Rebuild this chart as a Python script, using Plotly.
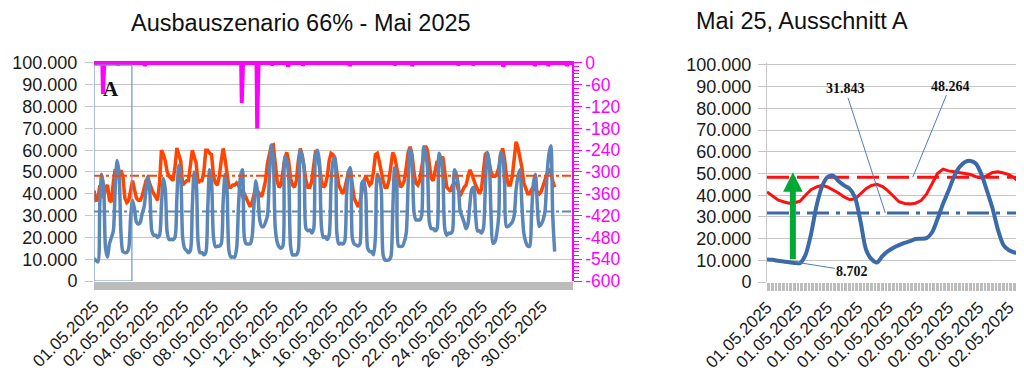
import numpy as np
import plotly.graph_objects as go

# ---------------- data (values in thousand MW unless noted) ----------------
# Left chart: May 2025, 3-hourly samples, 8 per day (00,03,...,21h), 01.05 - 30.05
BLUE_3H = [
    10.4, 9.4, 8.7, 35, 49, 43, 15, 11,
    17, 19.8, 22.8, 42, 55.3, 49.5, 22, 13.5,
    13, 13, 15, 29, 37, 33, 27, 26,
    27, 31, 34, 42, 48, 40, 23, 21,
    21, 20, 21, 35, 47, 42, 22, 19,
    19, 19, 20, 38, 53, 48, 20, 15,
    14, 13, 14, 34, 50, 46, 18, 13,
    13, 12, 13, 33, 51, 45, 20, 15.7,
    16, 16, 17, 36, 49, 42, 14, 11,
    11, 11, 15, 35, 48, 51, 20, 17,
    17, 17, 20, 35, 46, 40, 28, 25,
    25, 27, 30, 48, 62.4, 56, 25, 18,
    15.7, 15, 16, 57, 55, 48, 16, 12,
    12, 12, 14, 60, 57, 52, 24, 23,
    23.4, 22, 24, 58, 60, 54, 25, 20,
    20.3, 19, 21, 45, 55, 57, 22, 17,
    17.3, 17, 18, 38, 50, 52, 20, 17,
    16.5, 16, 17, 45, 46, 40, 15, 13.5,
    13.5, 12, 20, 49, 47, 42, 12, 9.6,
    9.5, 9.6, 11, 32, 52, 47, 16, 15.8,
    16, 18, 22, 45, 60.8, 56, 32, 28,
    28, 28, 30, 61.6, 59, 52, 27, 24,
    24, 23, 24, 58.6, 56, 48, 24, 21,
    22, 21.8, 23, 51, 49, 44, 32, 29.5,
    27, 24, 26, 35, 42, 43, 30, 23,
    23, 22, 24, 42, 59, 55, 30, 17.3,
    18, 22, 30, 59, 57, 45, 25, 25,
    26, 27, 30, 42, 48, 51, 35, 22,
    18, 16, 16, 30, 45, 49, 35, 25,
    26, 28, 32, 48, 58, 62, 30, 13.5,
]
RED_3H = [
    41.5, 37, 37.2, 43.8, 42.5, 38, 43, 44,
    37, 36.3, 45, 51.2, 50, 48, 50.8, 48,
    38, 36, 37, 42, 46, 42, 38, 37,
    37, 39, 42, 46, 47, 44, 42, 40,
    38, 37, 45, 60, 58, 55, 50, 48,
    47, 46, 52, 61, 58, 55, 44, 45,
    46, 46, 55, 60, 57, 54, 45, 46,
    46, 50, 60, 60, 58.6, 58, 48, 45,
    44, 48, 55, 60.8, 56, 50, 43, 43,
    44, 44, 45, 44, 42, 39, 40, 38,
    36, 34, 36, 40, 43, 41, 40, 38.7,
    42, 46, 54, 58, 62, 62.4, 52, 46,
    43, 44, 50, 56, 59, 55, 47, 44,
    43, 46, 55, 60.8, 58, 52, 46, 43,
    43, 46, 52, 60, 58, 52, 46, 43,
    44, 48, 55, 58.6, 58, 56, 50, 44,
    42, 40, 42, 46, 50, 51, 44, 38,
    36, 34, 36, 42, 46, 48, 46, 44,
    45, 50, 58, 58.6, 55, 50, 46, 43,
    43, 46, 54, 59, 57, 52, 46, 43,
    44, 46, 52, 59, 61.6, 58, 50, 45,
    44, 46, 52, 58, 62, 60, 52, 47,
    46, 50, 55, 54, 56, 57, 50, 43,
    42, 41, 44, 45, 45, 42, 39, 41,
    43, 44, 48, 51, 49, 46, 44, 42,
    40, 42, 50, 58, 59, 55, 50, 48,
    48, 49, 52, 58, 60.8, 56, 48, 44,
    44, 48, 56, 63.9, 61, 57, 52, 45,
    42, 40, 40, 42, 43, 42, 41, 40,
    41, 44, 47, 49, 51, 50, 46, 43,
]
SAMPLE_STEP_H = 3
MONTH_HOURS = 744

# Magenta series (right axis): 0 except for these dips (hour of month, value)
DIP_HOURS = [14, 37, 79, 230, 254, 277, 302, 325, 398, 468, 495, 567, 590, 637, 686, 707, 736]
DIP_VALUES = [-85, -6, -8, -110, -180, -6, -10, -7, -8, -6, -8, -6, -6, -10, -8, -8, -8]

LEFT_TICK_LABELS = ["01.05.2025", "02.05.2025", "04.05.2025", "06.05.2025", "08.05.2025",
                    "10.05.2025", "12.05.2025", "14.05.2025", "16.05.2025", "18.05.2025",
                    "20.05.2025", "22.05.2025", "24.05.2025", "26.05.2025", "28.05.2025",
                    "30.05.2025"]
LEFT_TICK_STEP_H = 46.5

MEAN_RED = 48264
MEAN_BLUE = 31843
MIN_BLUE = 8702

# Right chart: section A, hourly values 0..46 h
ZOOM_BLUE = [10.4, 10.2, 9.8, 9.4, 9.1, 8.8, 8.7, 12.5, 22, 35, 44, 48.3, 49, 46.5, 44.5, 43,
             39, 28, 15, 10.5, 9, 12, 14.2, 15.8, 17, 18, 18.8, 19.8, 19.9, 20.2, 22.8, 29,
             36, 42, 48.5, 53, 55.3, 55.8, 54.5, 49.5, 42, 34, 24, 17, 14.6, 13.6, 13.3]
ZOOM_RED = [41.5, 39.5, 37.8, 37, 36.3, 36.5, 37.2, 40, 42.5, 43.8, 44.5, 43.8, 42.5, 41, 39.2,
            38, 38.2, 40.5, 43, 44.5, 45, 44, 42, 39.5, 37, 36.2, 36, 36.3, 37.5, 40.5, 45, 50,
            52, 51.2, 50.8, 50.5, 50, 49.5, 48.5, 48, 49, 50.5, 50.8, 50.2, 49.5, 48, 45.5]
ZOOM_HOURS = 46
MIN_BLUE_HOUR = 5.1
RIGHT_TICK_LABELS = ["01.05.2025"] * 5 + ["02.05.2025"] * 4
RIGHT_TICK_STEP_H = 5.5

Y_TICKS = list(range(0, 100001, 10000))
Y2_TICKS = list(range(-600, 1, 60))

# ---------------- styling / page geometry ----------------
# the page body keeps the browser's default 8px margin
PAGE_OFF = 8
W, H = 1016, 382


def sx(px):
    return (px - PAGE_OFF) / W


def sy(px):
    return 1 - (px - PAGE_OFF) / H


FONT = "Liberation Sans, Arial, sans-serif"
SERIF = "Liberation Serif, Times New Roman, serif"
BLUE_L = "#5b86b8"
RED_L = "#ff4500"
BLUE_R = "#3b6aa9"
RED_R = "#ff1010"
MAGENTA = "#ff00ff"
GRID = "#c6c6c6"
BAND = "#bcbcbc"
TXT = "#1a1a1a"


def de(v):
    return f"{v:,}".replace(",", ".")


blue_l = np.array(BLUE_3H) * 1000
red_l = np.array(RED_3H) * 1000
hours_l = np.arange(len(BLUE_3H)) * SAMPLE_STEP_H

mag_hours = np.arange(MONTH_HOURS + 1)
mag_vals = np.zeros(len(mag_hours))
for h, v in zip(DIP_HOURS, DIP_VALUES):
    mag_vals[h] = v

blue_r = np.array(ZOOM_BLUE) * 1000
red_r = np.array(ZOOM_RED) * 1000
hours_r = np.arange(len(ZOOM_BLUE))

fig = go.Figure()

# left chart
fig.add_trace(go.Scatter(x=hours_l, y=red_l, mode="lines", line=dict(color=RED_L, width=3.5),
                         xaxis="x", yaxis="y"))
fig.add_trace(go.Scatter(x=hours_l, y=blue_l, mode="lines",
                         line=dict(color=BLUE_L, width=3.5, shape="spline", smoothing=0.8),
                         xaxis="x", yaxis="y"))
fig.add_trace(go.Scatter(x=[0, MONTH_HOURS], y=[MEAN_RED, MEAN_RED], mode="lines",
                         line=dict(color=RED_L, width=2, dash="dashdot"), xaxis="x", yaxis="y"))
fig.add_trace(go.Scatter(x=[0, MONTH_HOURS], y=[MEAN_BLUE, MEAN_BLUE], mode="lines",
                         line=dict(color=BLUE_L, width=2, dash="dashdot"), xaxis="x", yaxis="y"))
fig.add_trace(go.Scatter(x=mag_hours, y=mag_vals, mode="lines", line=dict(color=MAGENTA, width=4),
                         xaxis="x", yaxis="y2"))

# right chart
fig.add_trace(go.Scatter(x=[0, ZOOM_HOURS], y=[MEAN_RED, MEAN_RED], mode="lines",
                         line=dict(color=RED_R, width=3, dash="22px,8px"), xaxis="x2", yaxis="y3"))
fig.add_trace(go.Scatter(x=[0, ZOOM_HOURS], y=[MEAN_BLUE, MEAN_BLUE], mode="lines",
                         line=dict(color=BLUE_R, width=3, dash="22px,7px,4px,7px"),
                         xaxis="x2", yaxis="y3"))
fig.add_trace(go.Scatter(x=hours_r, y=red_r, mode="lines", line=dict(color=RED_R, width=3),
                         xaxis="x2", yaxis="y3"))
fig.add_trace(go.Scatter(x=hours_r, y=blue_r, mode="lines",
                         line=dict(color=BLUE_R, width=4, shape="spline", smoothing=0.8),
                         xaxis="x2", yaxis="y3"))

tick_font = dict(family=FONT, size=17, color=TXT)
ytick_font = dict(family=FONT, size=18, color=TXT)

fig.update_layout(
    width=W, height=H, autosize=False,
    margin=dict(l=0, r=0, t=0, b=0, autoexpand=False),
    paper_bgcolor="white", plot_bgcolor="white",
    showlegend=False,
    font=dict(family=FONT, color=TXT),
    xaxis=dict(domain=[sx(94), sx(572)], range=[0, MONTH_HOURS], anchor="y",
               automargin=False, tickmode="array",
               tickvals=[i * LEFT_TICK_STEP_H for i in range(len(LEFT_TICK_LABELS))],
               ticktext=LEFT_TICK_LABELS, tickangle=-45, tickfont=tick_font,
               ticks="outside", ticklen=8, tickcolor=BAND,
               minor=dict(dtick=1, ticks="outside", ticklen=8, tickcolor=BAND, showgrid=False),
               showgrid=False, zeroline=False, showline=False),
    yaxis=dict(domain=[sy(281), sy(60.8)], range=[0, 101000], anchor="x",
               automargin=False, tickmode="array", tickvals=Y_TICKS,
               ticktext=[de(v) for v in Y_TICKS], ticklabelstandoff=4,
               tickfont=ytick_font, ticks="outside", ticklen=8, tickcolor=GRID,
               gridcolor=GRID, gridwidth=1, zeroline=False, showline=False),
    yaxis2=dict(overlaying="y", side="right", anchor="x", range=[-600, 6], automargin=False,
                tickmode="array", tickvals=Y2_TICKS, ticktext=[str(v) for v in Y2_TICKS],
                tickfont=dict(family=FONT, size=17.5, color=MAGENTA),
                ticks="outside", ticklen=8, tickcolor=MAGENTA, tickwidth=1,
                minor=dict(dtick=10, tick0=0, ticks="outside", ticklen=5, tickcolor=MAGENTA),
                showline=True, linecolor=MAGENTA, linewidth=1.5,
                showgrid=False, zeroline=False),
    xaxis2=dict(domain=[sx(767), sx(1020)], range=[0, ZOOM_HOURS], anchor="y3",
                automargin=False, tickmode="array",
                tickvals=[i * RIGHT_TICK_STEP_H for i in range(len(RIGHT_TICK_LABELS))],
                ticktext=RIGHT_TICK_LABELS, tickangle=-45, tickfont=tick_font,
                ticks="outside", ticklen=8, tickcolor=BAND,
                minor=dict(dtick=0.25, ticks="outside", ticklen=8, tickcolor=BAND, showgrid=False),
                showgrid=False, zeroline=False, showline=False),
    yaxis3=dict(domain=[sy(282), sy(62.8)], range=[0, 101000], anchor="x2",
                automargin=False, tickmode="array", tickvals=Y_TICKS,
                ticktext=[de(v) for v in Y_TICKS], ticklabelstandoff=3,
                tickfont=ytick_font, ticks="outside", ticklen=8, tickcolor=GRID,
                gridcolor=GRID, gridwidth=1, zeroline=False,
                showline=True, linecolor=GRID, linewidth=1),
)

# section A frame on the left chart
fig.add_shape(type="rect", xref="x", yref="y", x0=0, x1=59, y0=0, y1=99000,
              line=dict(color="#6f93c0", width=1.2), fillcolor="rgba(0,0,0,0)")

annotations = [
    dict(text="Ausbauszenario 66% - Mai 2025", xref="paper", yref="paper", x=sx(301),
         y=sy(23), xanchor="center", yanchor="middle", showarrow=False,
         font=dict(family=FONT, size=23.5, color="#111111")),
    dict(text="Mai 25, Ausschnitt A", xref="paper", yref="paper", x=sx(802),
         y=sy(21), xanchor="center", yanchor="middle", showarrow=False,
         font=dict(family=FONT, size=23.5, color="#111111")),
    dict(text="<b>A</b>", xref="x", yref="y", x=26, y=88000, showarrow=False,
         font=dict(family=SERIF, size=21, color="#111111")),
    # green arrow
    dict(text="", xref="x2", yref="y3", x=4.7, y=50600, axref="x2", ayref="y3",
         ax=4.7, ay=9800, showarrow=True, arrowhead=2, arrowsize=0.65, arrowwidth=6,
         arrowcolor="#00a933", standoff=0, startstandoff=0),
    # leader-line labels
    dict(text=f"<b>{de(MEAN_BLUE)}</b>", xref="x2", yref="y3", x=21.5, y=MEAN_BLUE,
         axref="x2", ayref="y3", ax=14.2, ay=89000, showarrow=True, arrowhead=0,
         arrowwidth=1, arrowcolor="#4f7db5", font=dict(family=SERIF, size=14, color="#111111")),
    dict(text=f"<b>{de(MEAN_RED)}</b>", xref="x2", yref="y3", x=26.5, y=MEAN_RED,
         axref="x2", ayref="y3", ax=33.3, ay=90300, showarrow=True, arrowhead=0,
         arrowwidth=1, arrowcolor="#4f7db5", font=dict(family=SERIF, size=14, color="#111111")),
    dict(text=f"<b>{de(MIN_BLUE)}</b>", xref="x2", yref="y3", x=MIN_BLUE_HOUR, y=9200,
         axref="x2", ayref="y3", ax=15.5, ay=5000, showarrow=True, arrowhead=0,
         arrowwidth=1, arrowcolor="#4f7db5", font=dict(family=SERIF, size=14, color="#111111")),
]
fig.update_layout(annotations=annotations)

fig.write_html("out.html")
